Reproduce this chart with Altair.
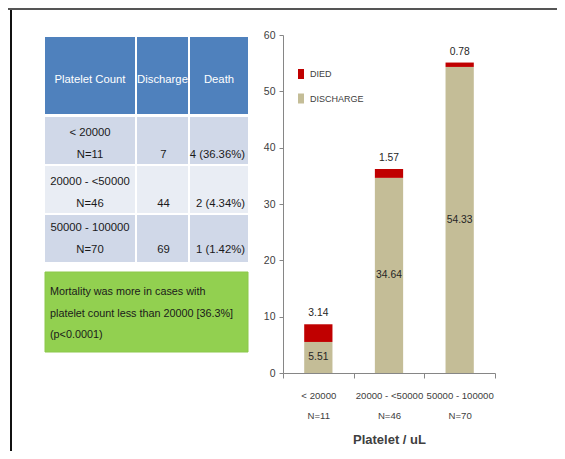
import altair as alt
import pandas as pd

# ---- data ----
PLATELET_COUNT = ["< 20000", "20000 - <50000", "50000 - 100000"]
N_CASES = [11, 46, 70]
DISCHARGE_N = [7, 44, 69]
DEATH_TEXT = ["4 (36.36%)", "2 (4.34%)", "1 (1.42%)"]
DISCHARGE_PCT = [5.51, 34.64, 54.33]
DIED_PCT = [3.14, 1.57, 0.78]
HEADERS = ["Platelet  Count", "Discharge", "Death"]
NOTE = "Mortality was more in cases with\nplatelet count less than 20000 [36.3%]\n(p<0.0001)"
SERIES = ["DIED", "DISCHARGE"]
SERIES_COLORS = ["#c00000", "#c4bd97"]

FONT = "Liberation Sans, Arial, sans-serif"
TXT = "#404040"

# ---- layout (page pixels) ----
PLOT_X0, PLOT_Y0, PLOT_W, PLOT_H = 283, 35, 212, 338
CANVAS_W, CANVAS_H = 549, 443
PAD_L, PAD_T = PLOT_X0 - 8, PLOT_Y0 - 8
PAD_R, PAD_B = CANVAS_W - PAD_L - PLOT_W, CANVAS_H - PAD_T - PLOT_H

COL_EDGES = [(45, 135), (137, 188), (190, 248)]
HEADER_EDGES = (37, 114)
HEADER_TEXT_Y = 80
ROW_EDGES = [(117, 164), (166, 213), (215, 262)]
ROW_LINE1 = [133, 182, 228]
LINE_H = 21.7
ROW_FILLS = ["#d0d8e8", "#e9edf4", "#d0d8e8"]
NOTE_BOX = (45, 272, 248, 352)
NOTE_LINE1 = 292

px = alt.Scale(domain=[0, 565], range=[-PLOT_X0, 565 - PLOT_X0])
py = alt.Scale(domain=[0, 459], range=[-PLOT_Y0, 459 - PLOT_Y0])

categories = [f"{c}|N={n}" for c, n in zip(PLATELET_COUNT, N_CASES)]

# ---- bar chart ----
rows = []
for cat, d, dd in zip(categories, DISCHARGE_PCT, DIED_PCT):
    rows.append({"category": cat, "series": "DISCHARGE", "value": d, "ord": 0})
    rows.append({"category": cat, "series": "DIED", "value": dd, "ord": 1})
bar_df = pd.DataFrame(rows)

lab_df = pd.DataFrame({
    "category": categories,
    "dis_mid": [d / 2 for d in DISCHARGE_PCT],
    "dis_txt": [f"{d:.2f}" for d in DISCHARGE_PCT],
    "top": [d + dd for d, dd in zip(DISCHARGE_PCT, DIED_PCT)],
    "died_txt": [f"{dd:.2f}" for dd in DIED_PCT],
})

xscale = alt.Scale(domain=categories, paddingInner=0, paddingOuter=0)
yscale = alt.Scale(domain=[0, 60], nice=False)

bars = alt.Chart(bar_df).mark_bar(width=alt.RelativeBandSize(0.4)).encode(
    x=alt.X("category:N", sort=categories, scale=xscale, title="Platelet / uL",
            axis=alt.Axis(labelExpr="split(datum.label, '|')", labelAngle=0,
                          tickBand="extent", tickSize=5, labelLineHeight=20,
                          labelPadding=12, labelFontSize=9.6, titleFontSize=13,
                          titleFontWeight="bold", titlePadding=14)),
    y=alt.Y("value:Q", stack="zero", scale=yscale, title=None,
            axis=alt.Axis(values=[0, 10, 20, 30, 40, 50, 60], tickSize=4,
                          labelPadding=4, labelFontSize=10.5, grid=False)),
    color=alt.Color("series:N", scale=alt.Scale(domain=SERIES, range=SERIES_COLORS),
                    legend=alt.Legend(title=None, orient="none", legendX=13, legendY=34,
                                      symbolType="M-0.6,-1H0.6V1H-0.6Z", symbolSize=100,
                                      symbolStrokeWidth=0, labelFontSize=9,
                                      labelOffset=4, rowPadding=14.5, padding=0)),
    order=alt.Order("ord:Q"),
)

dis_labels = alt.Chart(lab_df).mark_text(font=FONT, fontSize=10.3, color="#262626").encode(
    x=alt.X("category:N", sort=categories, scale=xscale),
    y=alt.Y("dis_mid:Q", scale=yscale),
    text="dis_txt:N",
)
died_labels = alt.Chart(lab_df).mark_text(font=FONT, fontSize=10.3, color="#262626", dy=-11).encode(
    x=alt.X("category:N", sort=categories, scale=xscale),
    y=alt.Y("top:Q", scale=yscale),
    text="died_txt:N",
)
bar_chart = alt.layer(bars, dis_labels, died_labels)

# ---- table on the left ----
cells = []
for (x0, x1) in COL_EDGES:
    cells.append({"x0": x0, "x1": x1, "y0": HEADER_EDGES[0], "y1": HEADER_EDGES[1], "fill": "#4f81bd"})
for (y0, y1), f in zip(ROW_EDGES, ROW_FILLS):
    for (x0, x1) in COL_EDGES:
        cells.append({"x0": x0, "x1": x1, "y0": y0, "y1": y1, "fill": f})
cells_df = pd.DataFrame(cells)

cell_rects = alt.Chart(cells_df).mark_rect().encode(
    x=alt.X("x0:Q", scale=px, axis=None), x2="x1:Q",
    y=alt.Y("y0:Q", scale=py, axis=None), y2="y1:Q",
    color=alt.Color("fill:N", scale=None),
)

center_txt = []
for h, (x0, x1) in zip(HEADERS, COL_EDGES):
    center_txt.append({"x": (x0 + x1) / 2, "y": HEADER_TEXT_Y, "t": h, "c": "#ffffff"})
for i, l1 in enumerate(ROW_LINE1):
    center_txt.append({"x": (COL_EDGES[0][0] + COL_EDGES[0][1]) / 2, "y": l1,
                       "t": f"{PLATELET_COUNT[i]}\nN={N_CASES[i]}", "c": "#1a1a1a"})
    center_txt.append({"x": (COL_EDGES[1][0] + COL_EDGES[1][1]) / 2 + 1, "y": l1 + LINE_H,
                       "t": str(DISCHARGE_N[i]), "c": "#1a1a1a"})
center_df = pd.DataFrame(center_txt)
right_df = pd.DataFrame({"x": [COL_EDGES[2][1] - 3] * 3,
                         "y": [l1 + LINE_H for l1 in ROW_LINE1],
                         "t": DEATH_TEXT})

t_center = alt.Chart(center_df).mark_text(font=FONT, fontSize=11.3, lineBreak="\n",
                                          lineHeight=LINE_H, baseline="middle").encode(
    x=alt.X("x:Q", scale=px, axis=None), y=alt.Y("y:Q", scale=py, axis=None),
    text="t:N", color=alt.Color("c:N", scale=None),
)
t_right = alt.Chart(right_df).mark_text(font=FONT, fontSize=11.3, align="right",
                                        baseline="middle", color="#1a1a1a").encode(
    x=alt.X("x:Q", scale=px, axis=None), y=alt.Y("y:Q", scale=py, axis=None),
    text="t:N",
)

note_df = pd.DataFrame({"x0": [NOTE_BOX[0]], "y0": [NOTE_BOX[1]], "x1": [NOTE_BOX[2]],
                        "y1": [NOTE_BOX[3]], "tx": [NOTE_BOX[0] + 5],
                        "ty": [NOTE_LINE1], "t": [NOTE]})
note_rect = alt.Chart(note_df).mark_rect(color="#92d050", stroke="#8cc84a", strokeWidth=1).encode(
    x=alt.X("x0:Q", scale=px, axis=None), x2="x1:Q",
    y=alt.Y("y0:Q", scale=py, axis=None), y2="y1:Q",
)
note_text = alt.Chart(note_df).mark_text(font=FONT, fontSize=10.8, align="left", baseline="middle",
                                         lineBreak="\n", lineHeight=21.5, color="#1a1a1a").encode(
    x=alt.X("tx:Q", scale=px, axis=None), y=alt.Y("ty:Q", scale=py, axis=None),
    text="t:N",
)

# ---- frame lines ----
one = pd.DataFrame({"a": [0]})
vline = alt.Chart(one).mark_rule(color="#111111", strokeWidth=2).encode(
    x=alt.value(11 - PLOT_X0), y=alt.value(8 - PLOT_Y0), y2=alt.value(CANVAS_H + 8 - PLOT_Y0))
hline = alt.Chart(one).mark_rule(color="#555555", strokeWidth=2).encode(
    x=alt.value(8 - PLOT_X0), x2=alt.value(CANVAS_W + 8 - PLOT_X0), y=alt.value(9 - PLOT_Y0))

chart = alt.layer(
    cell_rects, t_center, t_right, note_rect, note_text, vline, hline, bar_chart
).resolve_scale(x="independent", y="independent", color="independent").properties(
    width=PLOT_W, height=PLOT_H,
    autosize=alt.AutoSizeParams(type="none"),
    padding={"left": PAD_L, "top": PAD_T, "right": PAD_R, "bottom": PAD_B},
    background="#ffffff",
).configure_view(stroke=None).configure_axis(
    domainColor="#868686", tickColor="#868686", labelColor=TXT, titleColor=TXT,
    labelFont=FONT, titleFont=FONT,
).configure_legend(labelFont=FONT, labelColor=TXT)

chart.save("out.html", embed_options={"renderer": "svg", "actions": False})
